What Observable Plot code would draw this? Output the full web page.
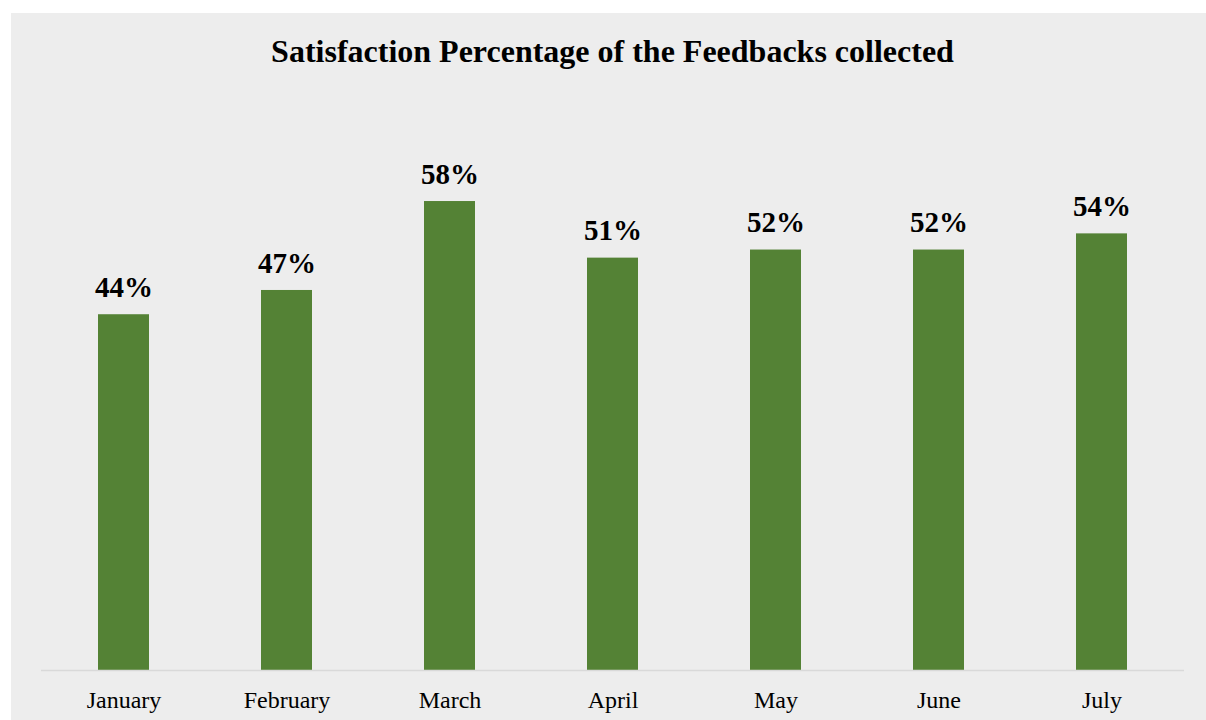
<!DOCTYPE html>
<html>
<head>
<meta charset="utf-8">
<script src="https://cdn.jsdelivr.net/npm/d3@7"></script>
<script src="https://cdn.jsdelivr.net/npm/@observablehq/plot@0.6"></script>
<style>
  html, body { margin: 0; padding: 0; background: #ffffff; }
  #frame { position: absolute; left: 11px; top: 13px; width: 1195px; height: 707px; background: #ededed; overflow: hidden; }
  #title { position: absolute; left: 4px; top: 22px; width: 100%; text-align: center; font-family: "Liberation Serif", "Times New Roman", serif; font-weight: bold; font-size: 32px; line-height: 1; color: #000; }
  #chart { position: absolute; left: 0; top: 80px; }
</style>
</head>
<body>
<div id="frame">
  <div id="title">Satisfaction Percentage of the Feedbacks collected</div>
  <div id="chart"></div>
</div>
<script>
const months = ["January", "February", "March", "April", "May", "June", "July"];
const satisfaction = [44, 47, 58, 51, 52, 52, 54];
const labels = ["44%", "47%", "58%", "51%", "52%", "52%", "54%"];

const data = months.map((m, i) => ({month: m, value: satisfaction[i], label: labels[i]}));

const chart = Plot.plot({
  width: 1195,
  height: 627,
  marginTop: 11,
  marginBottom: 50,
  marginLeft: 30,
  marginRight: 22,
  style: {background: "transparent", fontFamily: "Liberation Serif, Times New Roman, serif", color: "#000"},
  x: {domain: months, paddingInner: 0.688, paddingOuter: 0.344, label: null},
  y: {domain: [0, 70], axis: null},
  marks: [
    Plot.barY(data, {x: "month", y: "value", fill: "#548235"}),
    Plot.ruleY([0], {stroke: "#d9d9d9", strokeWidth: 1.5}),
    Plot.text(data, {x: "month", y: "value", text: "label", dy: -27, lineAnchor: "middle", fontSize: 29, fontWeight: "bold", fill: "#000"}),
    Plot.axisX({tickSize: 0, tickPadding: 20, fontSize: 24, label: null, fill: "#000"})
  ]
});
document.getElementById("chart").appendChild(chart);
</script>
</body>
</html>
